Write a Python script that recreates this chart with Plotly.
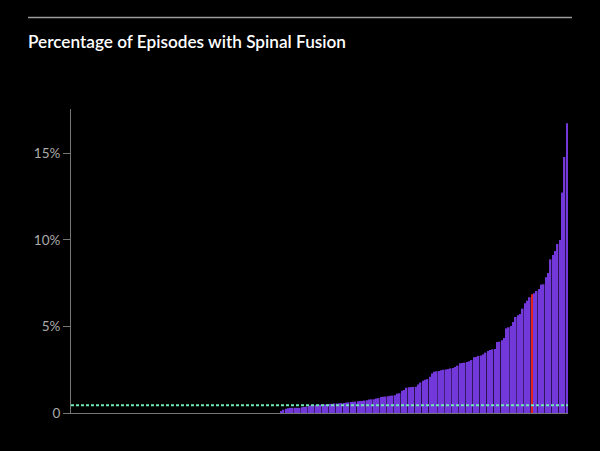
import plotly.graph_objects as go

# ---- data (percent of episodes with spinal fusion, sorted ascending) ----
zero_values = [
    0, 0, 0, 0, 0, 0, 0, 0, 0, 0, 0, 0, 0, 0, 0, 0, 0, 0, 0, 0,
    0, 0, 0, 0, 0, 0, 0, 0, 0, 0, 0, 0, 0, 0, 0, 0, 0, 0, 0, 0,
    0, 0, 0, 0, 0, 0, 0, 0, 0, 0, 0, 0, 0, 0, 0, 0, 0, 0, 0, 0,
    0, 0, 0, 0, 0, 0, 0, 0, 0, 0, 0, 0, 0, 0, 0, 0, 0, 0, 0, 0,
    0, 0, 0, 0, 0, 0, 0, 0, 0, 0,
]
low_values = [
    0.12, 0.19, 0.25, 0.27, 0.30, 0.30, 0.30, 0.30,
    0.30, 0.33, 0.35, 0.37,
    0.42, 0.44, 0.45, 0.46, 0.47, 0.48, 0.49, 0.50, 0.50,
    0.52, 0.53, 0.55, 0.55, 0.56, 0.57, 0.58,
    0.60, 0.62, 0.63, 0.65, 0.66, 0.68,
    0.69, 0.70, 0.72,
    0.74, 0.78, 0.79, 0.80,
    0.84, 0.86,
    0.93, 0.94, 0.95, 0.97,
    0.99, 1.01, 1.03,
    1.12, 1.14,
    1.29, 1.33,
    1.46, 1.49, 1.50, 1.51, 1.52,
    1.65, 1.76, 1.86,
    1.92, 1.96,
    2.10, 2.28,
    2.38, 2.41,
]
high_values = [
    2.43, 2.47, 2.50, 2.52, 2.54, 2.58, 2.60, 2.66, 2.74, 2.87,
    2.89, 2.91, 2.95, 2.99, 3.06, 3.22, 3.24, 3.30, 3.33, 3.39,
    3.49, 3.58, 3.64, 3.68, 3.70, 4.10, 4.12, 4.20, 4.34, 4.89,
    4.95, 5.03, 5.26, 5.55, 5.65, 5.72, 6.03, 6.34, 6.49, 6.69,
    6.86, 6.92, 7.05, 7.17, 7.42, 7.44, 7.84, 8.09, 8.88, 9.13,
    9.36, 9.77, 10.00, 12.74, 14.80, 16.74,
]
values = zero_values + low_values + high_values
providers = list(range(len(values)))
highlight_index = len(zero_values) + len(low_values) + 40
benchmark = 0.45

tick_vals = [0, 5, 10, 15]
tick_text = ["0", "5%", "10%", "15%"]
title_text = "Percentage of Episodes with Spinal Fusion"

BAR = "#7338d9"
RED = "#e2231a"
colors = [RED if i == highlight_index else BAR for i in providers]

fig = go.Figure()
fig.add_trace(go.Bar(
    x=providers, y=values,
    marker=dict(color=colors, line=dict(width=0)),
    hoverinfo="skip",
))
fig.add_trace(go.Scatter(
    x=[providers[0] - 0.5, providers[-1] + 0.5],
    y=[benchmark, benchmark],
    mode="lines",
    line=dict(color="#6ee8b4", width=2, dash="3px,2px"),
    hoverinfo="skip",
))

fig.update_layout(
    width=600, height=451,
    paper_bgcolor="#000000", plot_bgcolor="#000000",
    margin=dict(l=71, r=32, t=109, b=38),
    showlegend=False,
    bargap=0.3,
    font=dict(family="Lato", color="#ababab", size=13),
    title=dict(
        text=title_text,
        x=28 / 600, xref="container", xanchor="left",
        y=1 - 42 / 451, yref="container", yanchor="middle",
        font=dict(family="Lato", size=17.2, color="#ffffff", weight=600),
    ),
    xaxis=dict(
        range=[-0.5, len(values) - 0.5],
        showgrid=False, zeroline=False,
        showticklabels=False, ticks="",
        showline=True, linecolor="#777777", linewidth=1,
    ),
    yaxis=dict(
        range=[0, 17.57],
        tickvals=tick_vals, ticktext=tick_text,
        showgrid=False, zeroline=False,
        showline=True, linecolor="#777777", linewidth=1,
        ticks="outside", ticklen=7, tickcolor="#777777",
        tickfont=dict(size=13.5, color="#ababab"),
    ),
    shapes=[dict(
        type="line", xref="paper", yref="paper",
        x0=(28 - 71) / 497, x1=(572 - 71) / 497,
        y0=(413 - 17.5) / 304, y1=(413 - 17.5) / 304,
        line=dict(color="#9a9a9a", width=1.5),
    )],
)

fig.write_html(
    "out.html",
    config={"displayModeBar": False},
    post_script="document.body.style.margin='0';document.body.style.background='#000';",
)
